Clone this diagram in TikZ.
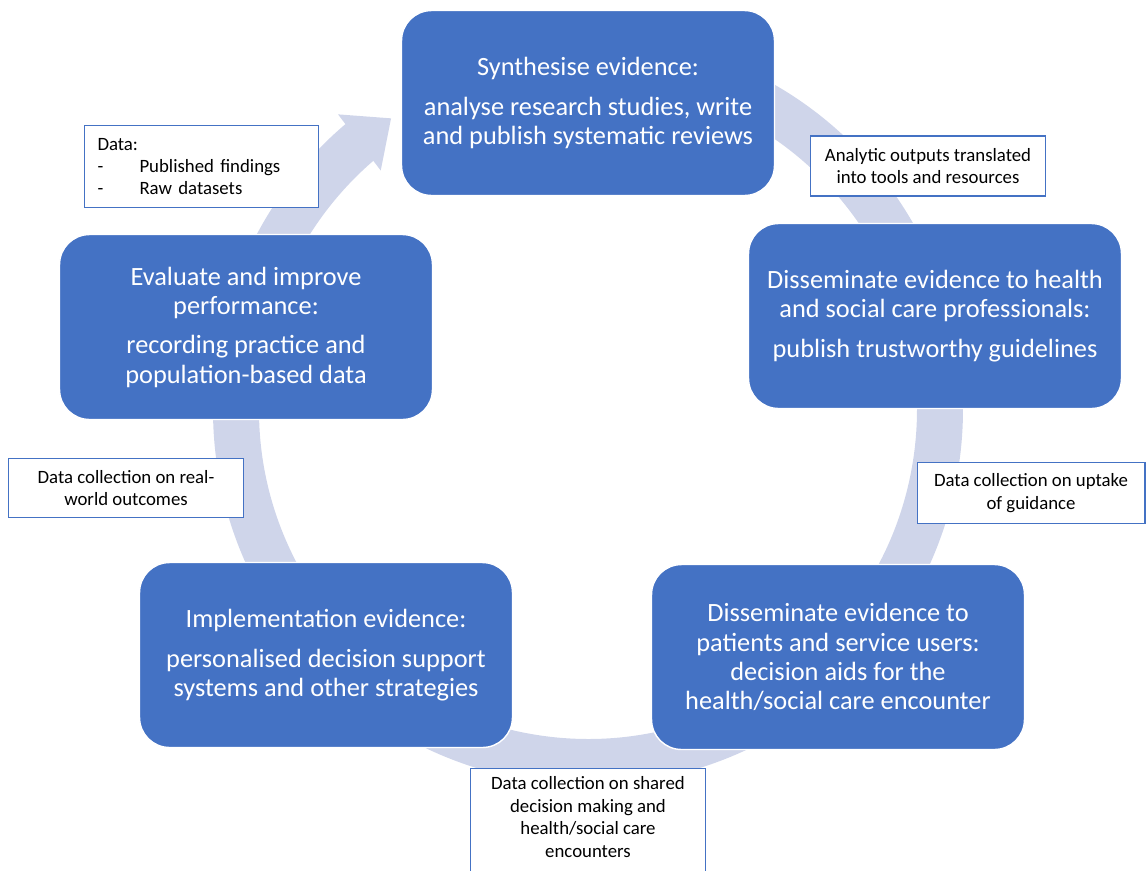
\documentclass[tikz,border=0pt]{standalone}
\usepackage{fontspec}
\setmainfont{Carlito}
\usetikzlibrary{arrows.meta,bending,positioning}
\definecolor{boxblue}{HTML}{4472C4}
\definecolor{bandblue}{HTML}{CFD5EA}

\begin{document}
\begin{tikzpicture}[x=0.02cm, y=-0.02cm,
  cbox/.style={draw=white, line width=0.8pt, fill=boxblue, rounded corners=0.6cm, minimum width=7.46cm, minimum height=3.7cm, align=center, text=white, font=\fontsize{15}{16.6}\selectfont},
  note/.style={draw=boxblue, line width=0.6pt, fill=white, align=center, inner sep=0pt, font=\fontsize{10.7}{12.8}\selectfont}]

\useasboundingbox (0,0) rectangle (1146,870);

% ring arrow behind the stages
\coordinate (CEN) at (588,410);
\draw[bandblue, line width=0.92cm, -{Triangle[length=0.8cm,width=1.36cm]}]
  ([shift={(80:7.04cm)}]CEN) arc[start angle=80, end angle=-236, radius=7.04cm];

% stages
\node[cbox] (SYN) at (588,103) {Synthesise evidence:\\[6pt] analyse research studies, write\\ and publish systematic reviews};
\node[cbox] (HSC) at (935,316) {Disseminate evidence to health\\ and social care professionals:\\[6pt] publish trustworthy guidelines};
\node[cbox] (PAT) at (838,657) {Disseminate evidence to\\ patients and service users:\\ decision aids for the\\ health/social care encounter};
\node[cbox] (IMP) at (326,655) {Implementation evidence:\\[6pt] personalised decision support\\ systems and other strategies};
\node[cbox] (EVA) at (246,327) {Evaluate and improve\\ performance:\\[6pt] recording practice and\\ population-based data};

% data notes
\node[note, align=left, anchor=north west, text width=4.16cm, inner xsep=0.26cm, minimum width=4.68cm, minimum height=1.64cm] (DOUT) at (84,125)
  {Data:\\ \makebox[0.84cm][l]{-}Published findings\\ \makebox[0.84cm][l]{-}Raw datasets};
\node[note, minimum width=4.7cm, minimum height=1.2cm] (DTOOL) at (928,166) {Analytic outputs translated\\ into tools and resources};
\node[note, minimum width=4.56cm, minimum height=1.22cm] (DUPT) at (1031,493) {Data collection on uptake\\ of guidance};
\node[note, minimum width=4.7cm, minimum height=1.18cm] (DRWO) at (126,488) {Data collection on real-\\world outcomes};
\node[note, anchor=north, minimum width=4.7cm, inner ysep=0.16cm, text depth=1cm] (DSDM) at (588,768)
  {Data collection on shared\\ decision making and\\ health/social care\\ encounters};

\end{tikzpicture}
\end{document}
